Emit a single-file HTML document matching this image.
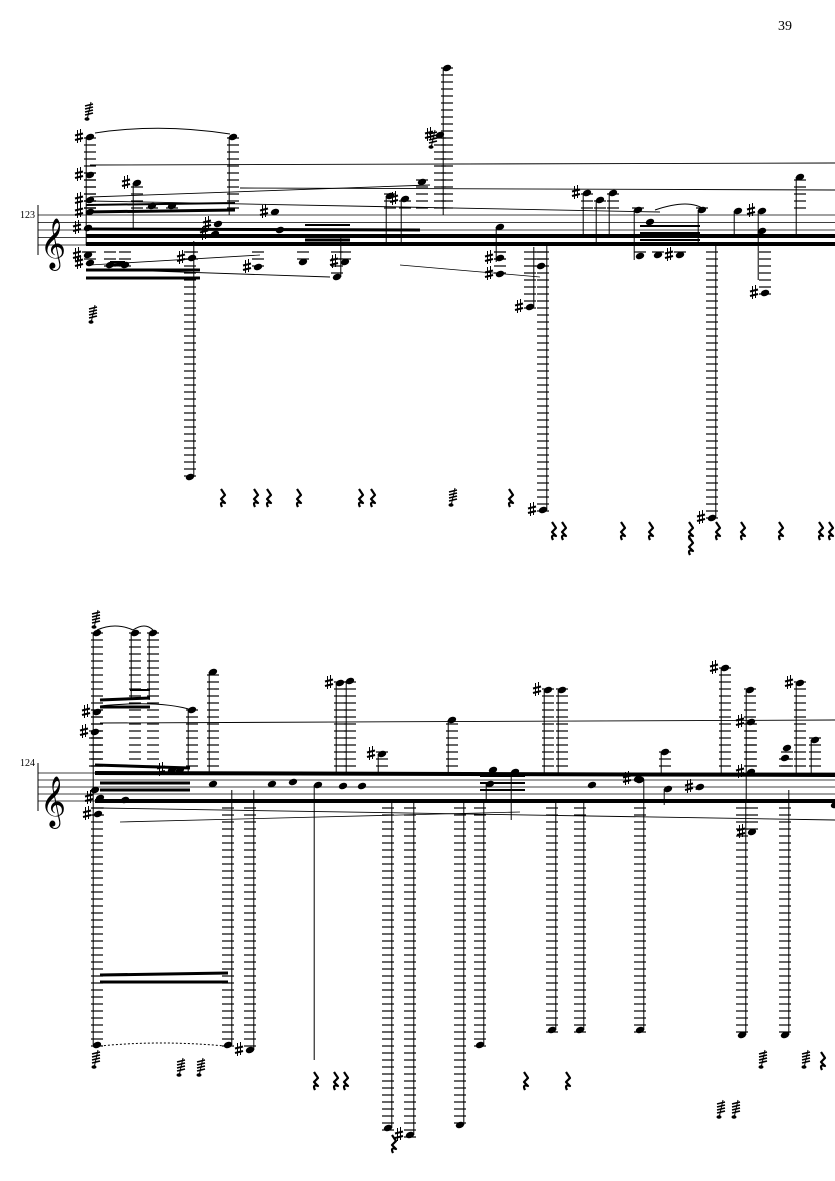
<!DOCTYPE html>
<html><head><meta charset="utf-8"><style>
html,body{margin:0;padding:0;background:#fff;}
svg{display:block;}
</style></head><body>
<svg id="s" width="835" height="1181" viewBox="0 0 835 1181" xmlns="http://www.w3.org/2000/svg">
<rect width="835" height="1181" fill="#fff"/>
<text x="778" y="30" font-family="Liberation Serif, serif" font-size="14">39</text>
<text x="20" y="218" font-family="Liberation Serif, serif" font-size="10">123</text>
<text x="20" y="766" font-family="Liberation Serif, serif" font-size="10">124</text>
<text x="40" y="258" font-family="DejaVu Serif, serif" font-size="44">𝄞</text>
<text x="40" y="816" font-family="DejaVu Serif, serif" font-size="44">𝄞</text>
<g id="g" stroke="#000" fill="#000"></g>
</svg>
<script>
var h='';
function L(x1,y1,x2,y2,w){h+='<line x1="'+x1+'" y1="'+y1+'" x2="'+x2+'" y2="'+y2+'" stroke-width="'+(w||1)+'"/>';}
function S(x,y){ // sharp centered at x,y
  L(x-1.5,y-7,x-1.5,y+6,1);L(x+1.5,y-8,x+1.5,y+5,1);
  L(x-4,y-1.5,x+4,y-3.5,2);L(x-4,y+3,x+4,y+1,2);}
function staff(top,sp){for(var i=0;i<5;i++)L(38,top+i*sp,835,top+i*sp,0.8);}
function N(x,y,to,top,bot,sh){
  h+='<ellipse cx="'+x+'" cy="'+y+'" rx="4.3" ry="3.1" transform="rotate(-20 '+x+' '+y+')" stroke="none"/>';
  if(to!=null){var sx=(to<y)?x+3.8:x-3.8;L(sx,y,sx,to,1);}
  if(y<top){for(var yy=top-7;yy>=y-2;yy-=7)L(x-6,yy,x+6,yy,1.2);}
  if(y>bot){for(var yy=bot+7;yy<=y+2;yy+=7)L(x-6,yy,x+6,yy,1.2);}
  if(sh)S(x-11,y);
}
function R(x,y){h+='<path d="M'+(x-1)+' '+(y-8)+' L'+(x+3)+' '+(y-2)+' L'+(x-1)+' '+(y+2)+' L'+(x+3)+' '+(y+6)+' Q'+(x-3)+' '+(y+4)+' '+(x)+' '+(y+10)+'" fill="none" stroke-width="2.2" stroke-linejoin="round"/>';}
function G(x,y){ // grace/tremolo cluster
  L(x+3,y-10,x-1,y+8,1);for(var i=0;i<4;i++)L(x-3,y-6+i*3,x+5,y-8+i*3,1.6);
  h+='<ellipse cx="'+(x-1)+'" cy="'+(y+7)+'" rx="2.5" ry="1.8" stroke="none"/>';}
/* ---------- system 1 ---------- */
var t1=215,b1=245;staff(t1,7.5);
L(38,205,38,255,1);
L(86,236,835,236,4);L(86,244,835,244,4);L(86,229,420,230,3);
L(86,212,235,210,3);L(86,205,235,203,2);
L(86,270,200,270,3);L(86,278,200,278,3);
L(110,265,125,265,3);L(110,262,125,262,2);
L(305,240,350,240,3);L(305,230,350,230,2);L(305,225,350,225,2);
L(640,233,700,233,2);L(640,240,700,240,2);L(640,226,700,226,2);
L(90,165,835,163,0.9);L(90,197,430,185,0.9);L(240,188,835,190,0.9);
L(90,201,660,212,0.9);L(90,265,260,255,0.8);L(120,270,330,277,0.9);L(400,265,540,277,0.8);
h+='<path d="M95 133 Q160 123 230 134" fill="none" stroke-width="1"/>';
h+='<path d="M655 210 Q690 198 705 210" fill="none" stroke-width="1"/>';
N(90,137,245,t1,b1,1);N(90,175,null,t1,b1,1);N(90,200,null,t1,b1,1);N(90,212,null,t1,b1,1);
N(88,228,null,t1,b1,1);N(88,255,null,t1,b1,1);N(90,263,null,t1,b1,1);
N(110,265,null,t1,b1);N(125,265,null,t1,b1);
N(137,183,228,t1,b1,1);N(152,206,null,t1,b1);N(172,206,null,t1,b1);
N(190,477,241,t1,b1);N(192,258,null,t1,b1,1);N(215,234,null,t1,b1,1);N(218,224,null,t1,b1,1);
N(233,137,215,t1,b1);N(258,267,null,t1,b1,1);N(275,212,null,t1,b1,1);N(280,230,null,t1,b1);
N(303,262,null,t1,b1);N(337,277,237,t1,b1);N(345,262,null,t1,b1,1);
N(390,196,245,t1,b1);N(405,199,245,t1,b1,1);N(422,182,null,t1,b1);
N(447,68,215,t1,b1);N(440,135,null,t1,b1,1);
N(500,227,262,t1,b1);N(500,258,null,t1,b1,1);N(500,274,null,t1,b1,1);
N(530,307,247,t1,b1,1);N(541,266,null,t1,b1);N(543,510,245,t1,b1,1);
N(587,193,237,t1,b1,1);N(600,200,245,t1,b1);N(613,193,237,t1,b1);
N(638,210,260,t1,b1);N(650,222,null,t1,b1);N(640,256,null,t1,b1);N(658,255,null,t1,b1);N(680,255,null,t1,b1,1);
N(702,210,245,t1,b1);N(712,518,245,t1,b1,1);
N(738,211,237,t1,b1);N(762,211,237,t1,b1,1);N(762,231,280,t1,b1);N(765,293,null,t1,b1,1);
N(800,177,236,t1,b1);
G(88,112);G(92,315);G(432,140);
[222,255,268,298,360,372,510].forEach(function(x){R(x,497)});G(452,498);
[553,563,622,650,690,717,742,780,820,830].forEach(function(x){R(x,530)});R(690,545);
/* ---------- system 2 ---------- */
var t2=773,b2=801;staff(t2,7);
L(38,763,38,811,1);
L(95,773,835,775,4);L(95,801,835,801,4);
L(95,765,190,768,3);L(100,783,190,783,3);L(100,790,190,790,3);
L(100,700,150,698,3);L(100,707,150,707,3);L(130,690,150,690,2);
L(100,975,228,973,3);L(100,982,228,982,3);
L(480,783,525,783,2);L(480,790,525,790,2);L(480,776,525,776,2);
L(100,723,835,720,0.9);L(100,808,835,820,0.9);L(120,822,520,812,0.8);
h+='<path d="M97 630 Q115 622 133 630 Q145 622 153 630" fill="none" stroke-width="1"/>';
h+='<path d="M100 706 Q160 700 192 710" fill="none" stroke-width="1"/>';
h+='<path d="M100 1046 Q160 1040 225 1046" fill="none" stroke-width="1" stroke-dasharray="2 2"/>';
N(97,633,1045,t2,b2);N(97,712,null,t2,b2,1);N(95,732,null,t2,b2,1);N(95,790,null,t2,b2);
N(100,798,null,t2,b2,1);N(98,814,null,t2,b2,1);N(97,1045,null,t2,b2);N(125,800,null,t2,b2);
N(135,633,700,t2,b2);N(153,633,700,t2,b2);N(172,770,null,t2,b2,1);N(180,770,null,t2,b2);
N(192,710,773,t2,b2);N(213,672,773,t2,b2);
N(213,784,null,t2,b2);N(228,1045,790,t2,b2);N(250,1050,790,t2,b2,1);
N(272,784,null,t2,b2);N(293,782,null,t2,b2);N(318,785,1060,t2,b2);N(343,786,null,t2,b2);N(362,786,null,t2,b2);
N(340,683,773,t2,b2,1);N(350,681,773,t2,b2);N(382,754,773,t2,b2,1);N(452,720,773,t2,b2);
N(388,1128,801,t2,b2);N(410,1135,801,t2,b2,1);N(460,1125,801,t2,b2);
N(490,784,801,t2,b2);N(493,770,null,t2,b2);N(515,772,820,t2,b2);
N(480,1045,801,t2,b2);
N(548,690,773,t2,b2,1);N(562,690,773,t2,b2);
N(552,1030,801,t2,b2);N(580,1030,801,t2,b2);N(592,785,null,t2,b2);
N(640,1030,780,t2,b2);N(640,780,null,t2,b2);N(638,779,null,t2,b2,1);
N(665,752,773,t2,b2);N(668,789,805,t2,b2);N(700,787,790,t2,b2,1);
N(725,668,773,t2,b2,1);N(742,1035,801,t2,b2);
N(750,690,801,t2,b2);N(751,722,null,t2,b2,1);N(751,772,null,t2,b2,1);N(752,832,null,t2,b2,1);
N(785,1035,790,t2,b2);N(787,748,null,t2,b2);N(785,758,null,t2,b2);
N(800,683,773,t2,b2,1);N(815,740,773,t2,b2);N(835,805,null,t2,b2);
G(95,620);G(95,1060);
[315,335,345,525,567].forEach(function(x){R(x,1080)});R(393,1143);
[180,200].forEach(function(x){G(x,1068)});
[720,735].forEach(function(x){G(x,1110)});
[762,805].forEach(function(x){G(x,1060)});R(822,1060);
document.getElementById('g').innerHTML=h;
</script>
</body></html>
